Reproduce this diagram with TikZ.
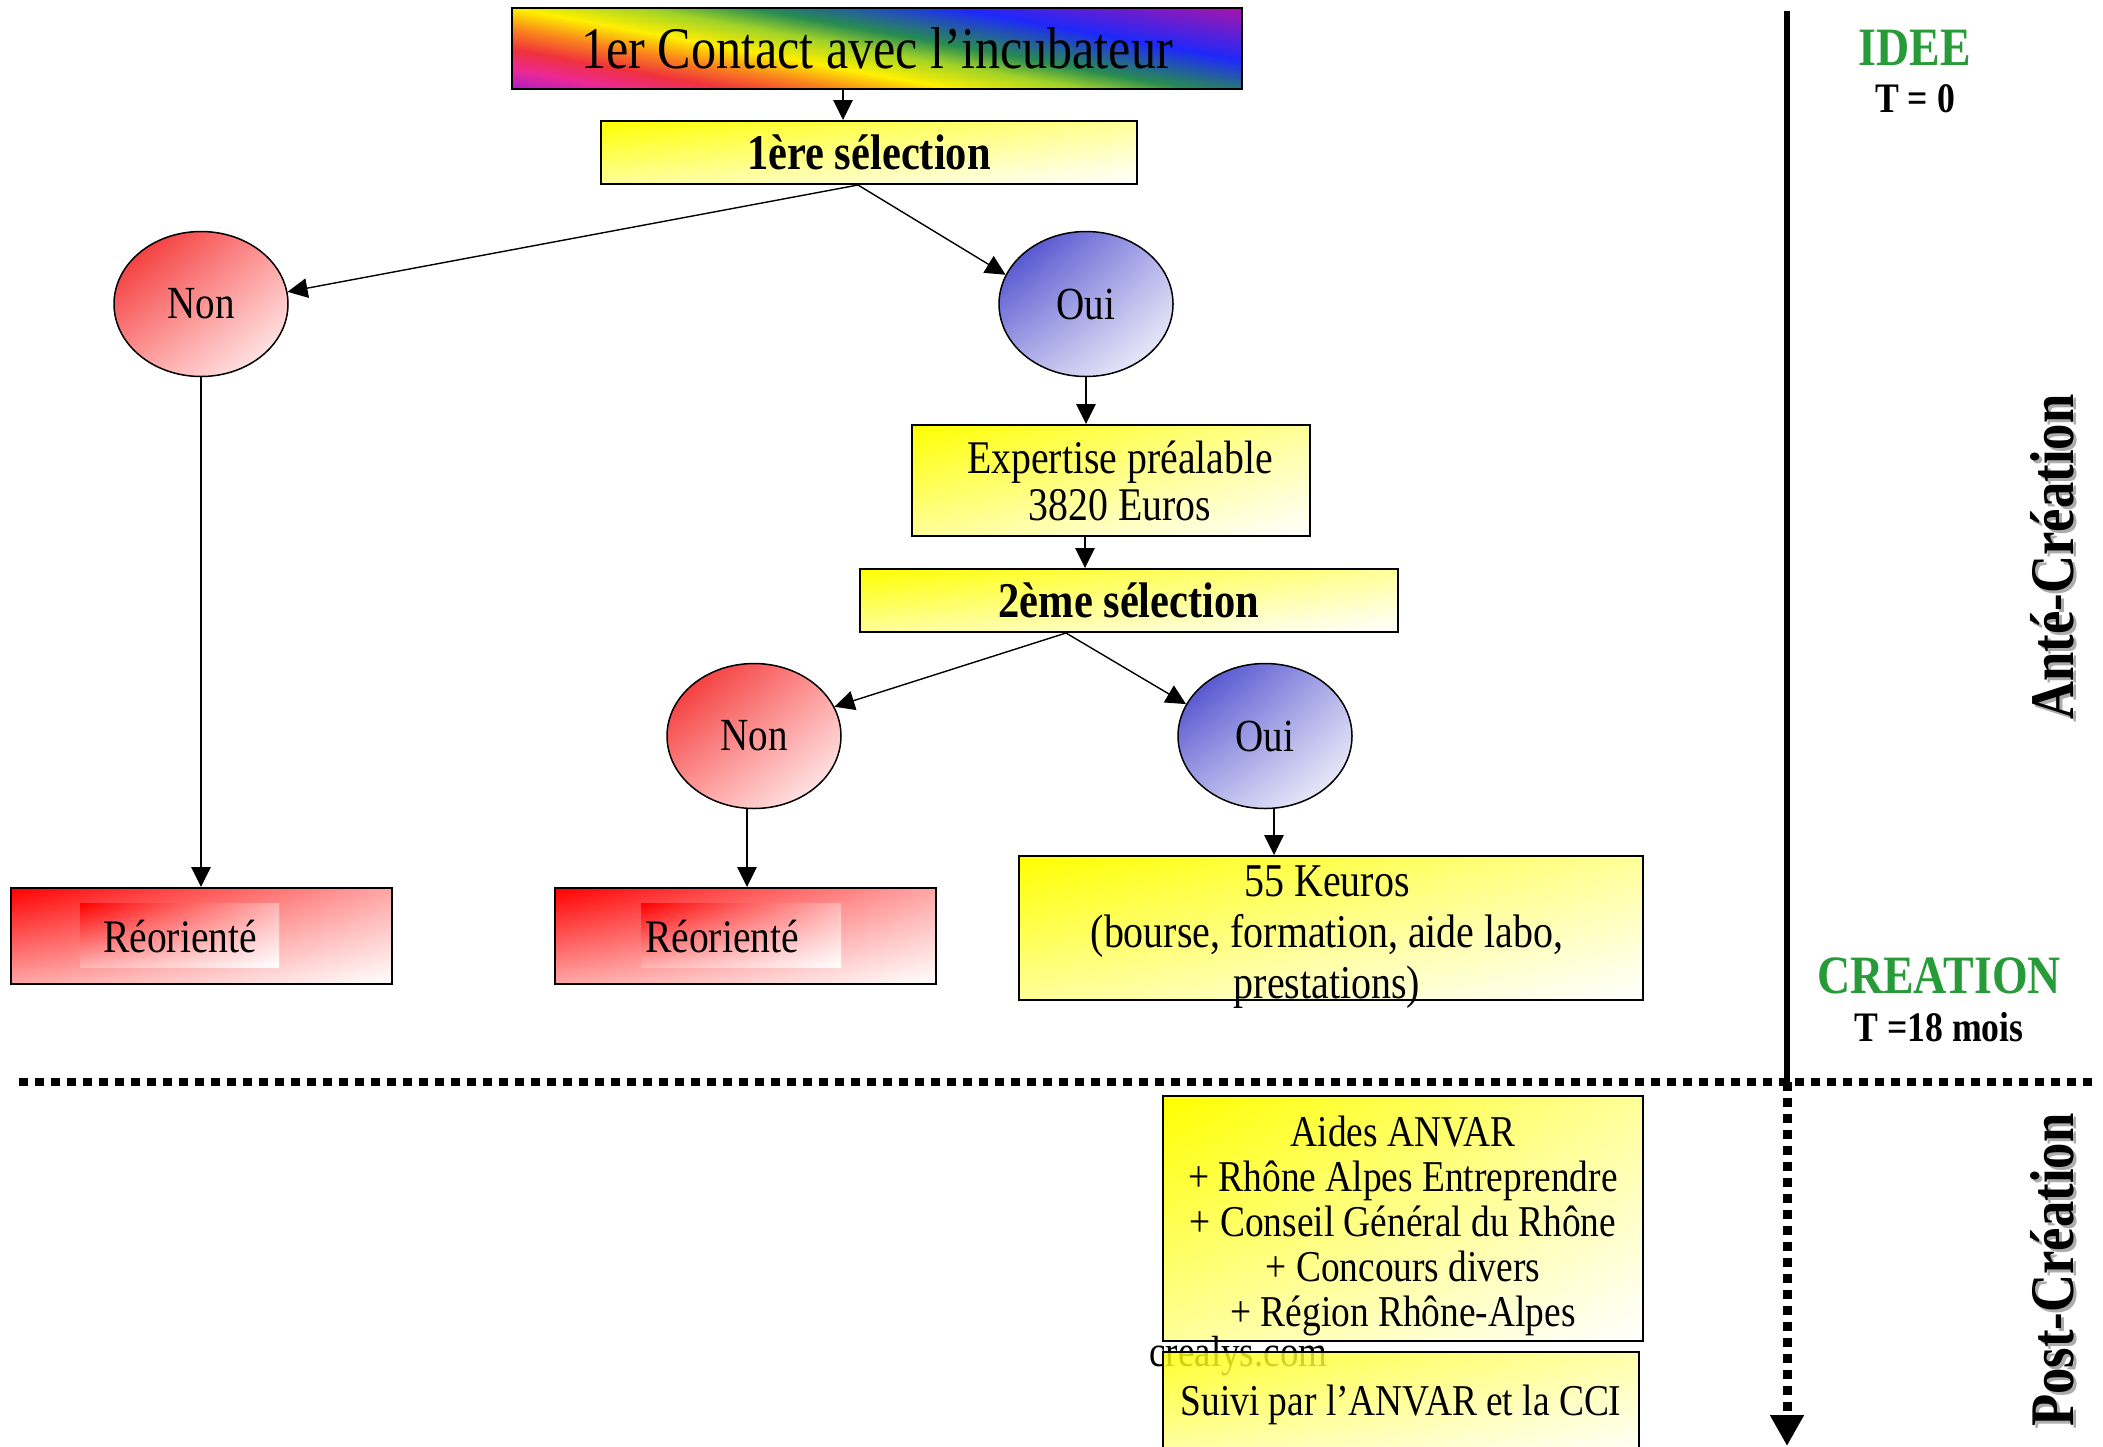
\documentclass[tikz,border=0pt]{standalone}
\usepackage{fontspec}
\setmainfont{Liberation Serif}[FakeStretch=0.85]
\usetikzlibrary{arrows.meta,shapes.geometric,calc,shadings}
\definecolor{rbA}{RGB}{170,30,200}
\definecolor{rbB}{RGB}{235,40,150}
\definecolor{rbC}{RGB}{240,50,60}
\definecolor{rbD}{RGB}{250,130,30}
\definecolor{rbE}{RGB}{255,240,0}
\definecolor{rbF}{RGB}{160,210,40}
\definecolor{rbG}{RGB}{40,140,80}
\definecolor{rbH}{RGB}{30,40,250}
\definecolor{rbI}{RGB}{170,20,170}
\definecolor{nonred}{RGB}{240,30,30}
\definecolor{ouiblue}{RGB}{55,55,200}
\definecolor{ideegreen}{RGB}{38,155,56}
\pgfdeclarehorizontalshading{rainbowsh}{100bp}{color(0bp)=(rbA); color(25bp)=(rbA); color(29.7bp)=(rbB); color(34.4bp)=(rbC); color(39bp)=(rbD); color(43.9bp)=(rbE); color(49.5bp)=(rbF); color(54bp)=(rbG); color(62.7bp)=(rbH); color(75bp)=(rbI); color(100bp)=(rbI)}
\begin{document}
\begin{tikzpicture}[x=0.5pt,y=-0.5pt,
  box/.style={draw=black, line width=1pt, inner sep=0pt, align=center},
  ybox/.style={box, upper left=yellow, upper right=yellow!40!white, lower left=yellow!40!white, lower right=white},
  rbox/.style={box, upper left=red, upper right=red!35!white, lower left=red!35!white, lower right=white},
  rinner/.style={inner sep=0pt, upper left=red, upper right=red!30!white, lower left=red!30!white, lower right=white},
  txt/.style={inner sep=0pt, align=center},
  reor/.style={txt, font=\fontsize{23.3pt}{26pt}\selectfont},
  nonel/.style={ellipse, draw, line width=0.75pt, minimum width=87pt, minimum height=72.5pt, inner sep=0pt, upper left=nonred, upper right=red!40!white, lower left=red!40!white, lower right=white, font=\fontsize{23pt}{27pt}\selectfont},
  ouiel/.style={ellipse, draw, line width=0.75pt, minimum width=87pt, minimum height=72.5pt, inner sep=0pt, upper left=ouiblue, upper right=ouiblue!40!white, lower left=ouiblue!40!white, lower right=white, font=\fontsize{23pt}{27pt}\selectfont},
  arr/.style={line width=0.7pt, -{Triangle[length=10pt,width=9.75pt]}},
  sidebold/.style={font=\bfseries\fontsize{21pt}{24pt}\selectfont},
  sidegreen/.style={font=\bfseries\fontsize{27pt}{30pt}\selectfont, text=ideegreen},
  vtitle/.style={rotate=90, font=\bfseries\fontsize{31pt}{34pt}\selectfont}
]
\fill[white] (0,0) rectangle (2103,1446);
\useasboundingbox (0,0) rectangle (2103,1446);

% rainbow top box
\begin{scope}
  \clip (512,8) rectangle (1242,89);
  \begin{scope}[transform canvas={shift={(877,48.5)}, rotate=79.6}]
    \shade[shading=rainbowsh] (-106,-420) rectangle (106,420);
  \end{scope}
\end{scope}
\node[draw=black, line width=1.25pt, minimum width=365pt, minimum height=40.5pt, inner sep=0pt,
      font=\fontsize{29.5pt}{32pt}\selectfont] (top) at (877,48.5) {1er Contact avec l’incubateur};

\node[ybox, minimum width=268pt, minimum height=31.5pt, font=\bfseries\fontsize{25pt}{30pt}\selectfont] (sel1) at (869,152.5) {1ère sélection};

\node[nonel] (n1) at (201,304) {Non};
\node[ouiel] (o1) at (1086,304) {Oui};

\node[ybox, minimum width=199pt, minimum height=55.5pt] (ex) at (1111,480.5) {};
\node[txt, font=\fontsize{23.4pt}{23.5pt}\selectfont] (extxt) at (1120,481) {Expertise préalable\\3820 Euros};

\node[ybox, minimum width=269pt, minimum height=31.5pt, font=\bfseries\fontsize{25pt}{30pt}\selectfont] (sel2) at (1129,600.5) {2ème sélection};

\node[nonel] (n2) at (754,736) {Non};
\node[ouiel] (o2) at (1265,736) {Oui};

\node[rbox, minimum width=190.5pt, minimum height=48pt] (r1) at (201.5,936) {};
\node[rinner, minimum width=99.5pt, minimum height=32pt] (r1i) at (179.5,935) {};
\node[reor] (r1t) at (180,937) {Réorienté};
\node[rbox, minimum width=190.5pt, minimum height=48pt] (r2) at (745.5,936) {};
\node[rinner, minimum width=100pt, minimum height=32pt] (r2i) at (741,935) {};
\node[reor] (r2t) at (722,937) {Réorienté};

\node[ybox, minimum width=312pt, minimum height=72pt] (k) at (1331,928) {};
\node[txt, font=\fontsize{23.5pt}{25.5pt}\selectfont] (ktxt) at (1327,937) {55 Keuros\\(bourse, formation, aide labo,\\prestations)};

\node[ybox, minimum width=240pt, minimum height=122.5pt] (aides) at (1403,1218.5) {};
\node[txt, font=\fontsize{22pt}{22.4pt}\selectfont] (aidestxt) at (1403,1226) {Aides ANVAR\\+ Rhône Alpes Entreprendre\\+ Conseil Général du Rhône\\+ Concours divers\\+ Région Rhône-Alpes};

\node[anchor=base west, inner sep=0pt, font=\fontsize{21.8pt}{24pt}\selectfont] (crealys) at (1149,1366) {crealys.com};

\node[ybox, fill opacity=0.82, text opacity=1, minimum width=238pt, minimum height=53pt, font=\fontsize{22pt}{26pt}\selectfont] (suivi) at (1401,1405) {Suivi par l’ANVAR et la CCI};

\coordinate (lnk) at (1216,1300);
\draw[line width=0.7pt] (aides.south -| lnk) -- (suivi.north -| lnk);

% connectors
\draw[arr] ([xshift=-17pt]top.south) -- ([xshift=-17pt]top.south |- sel1.north);
\draw[arr] ([xshift=-5.5pt]sel1.south) -- (n1.8);
\draw[arr] ([xshift=-5.5pt]sel1.south) -- (o1.160);
\draw[arr] (n1.south) -- (n1.south |- r1.north);
\draw[arr] (o1.south) -- (o1.south |- ex.north);
\draw[arr] ([xshift=-13pt]ex.south) -- ([xshift=-13pt]ex.south |- sel2.north);
\draw[arr] ([xshift=-31.5pt]sel2.south) -- (n2.20);
\draw[arr] ([xshift=-31.5pt]sel2.south) -- (o2.158);
\draw[arr] ([xshift=-3.5pt]n2.south) -- ([xshift=-3.5pt]n2.south |- r2.north);
\draw[arr] ([xshift=4.5pt]o2.south) -- ([xshift=4.5pt]o2.south |- k.north);

% timeline
\coordinate (tlA) at (1787,11);
\coordinate (tlB) at (1787,1082);
\coordinate (tlC) at (1787,1446);
\coordinate (hdA) at (19,1082);
\coordinate (hdB) at (2092,1082);
\draw[line width=3pt] (tlA) -- (tlB);
\draw[line width=4.5pt, dash pattern=on 4.5pt off 3.5pt, -{Triangle[length=15.5pt,width=16pt]}] (tlB) -- (tlC);
\draw[line width=4.25pt, dash pattern=on 4.5pt off 3.5pt] (hdA) -- (hdB);

% side labels
\node[sidegreen] (idee) at (1915,48) {IDEE};
\node[sidebold] (t0) at (1915,99) {T = 0};
\node[sidegreen] (crea) at (1939,976) {CREATION};
\node[sidebold] (t18) at (1939,1027) {T =18 mois};
\node[vtitle, text=gray!65] (antes) at (2055,560) {Anté-Création};
\node[vtitle] (ante) at (2052,557) {Anté-Création};
\node[vtitle, text=gray!65] (posts) at (2055,1273) {Post-Création};
\node[vtitle] (post) at (2052,1270) {Post-Création};
\end{tikzpicture}
\end{document}
